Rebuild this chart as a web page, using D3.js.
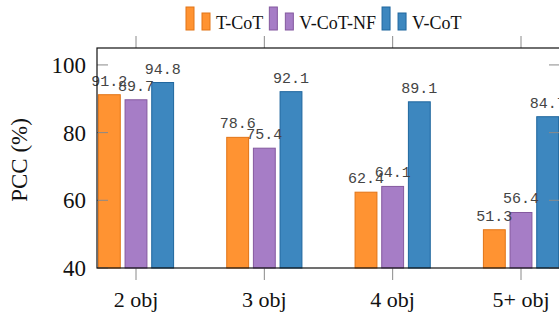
<!DOCTYPE html>
<html>
    <head>
        <style>
            html, body { margin: 0; padding: 0; background: #fff; }
        </style>
        <script src="https://d3js.org/d3.v7.min.js"></script>
    </head>
    <body>
        <div id="chart"></div>
        <script type="text/javascript">
            var categories = ["2 obj", "3 obj", "4 obj", "5+ obj"];
            var series = ["T-CoT", "V-CoT-NF", "V-CoT"];
            var tcot = [91.2, 78.6, 62.4, 51.3];
            var vcotNF = [89.7, 75.4, 64.1, 56.4];
            var vcot = [94.8, 92.1, 89.1, 84.7];
            var yTicks = [40, 60, 80, 100];

            var fills = ["#ff9332", "#a67dc6", "#3d87bf"];
            var strokes = ["#e27416", "#84599f", "#1f669e"];
            var values = [tcot, vcotNF, vcot];

            var serifFont = "'Liberation Serif', 'Times New Roman', serif";
            var monoFont = "'Liberation Mono', 'Courier New', monospace";

            var w = 559, h = 315;
            var axL = 97, axR = 560, axT = 48, axB = 268;

            var svg = d3.select("#chart").append("svg")
                .attr("width", w)
                .attr("height", h);

            var x = d3.scalePoint().domain(categories).range([136, 521]);
            var xInner = d3.scaleBand().domain(series).range([-40, 40])
                .paddingInner(0.18).paddingOuter(0.09);
            var y = d3.scaleLinear().domain([40, 105]).range([axB, axT]);

            var rows = [];
            categories.forEach(function(c, i) {
                series.forEach(function(s, j) {
                    rows.push({ cat: c, s: s, j: j, v: values[j][i] });
                });
            });

            // bars
            svg.selectAll("rect.bar")
                .data(rows)
                .enter()
                .append("rect")
                .attr("class", "bar")
                .attr("x", d => x(d.cat) + xInner(d.s))
                .attr("y", d => y(d.v))
                .attr("width", xInner.bandwidth())
                .attr("height", d => y(40) - y(d.v))
                .attr("fill", d => fills[d.j])
                .attr("stroke", d => strokes[d.j])
                .attr("stroke-width", 1);

            // value labels
            svg.selectAll("text.val")
                .data(rows)
                .enter()
                .append("text")
                .attr("class", "val")
                .attr("x", d => x(d.cat) + xInner(d.s) + xInner.bandwidth() / 2)
                .attr("y", d => y(d.v) - 9)
                .attr("text-anchor", "middle")
                .attr("font-family", monoFont)
                .attr("font-size", 15)
                .attr("fill", "#444")
                .text(d => d.v.toFixed(1));

            // ticks
            var tickColor = "#8a8a8a";
            svg.selectAll("line.yl")
                .data(yTicks)
                .enter()
                .append("line")
                .attr("x1", axL).attr("x2", axL + 11)
                .attr("y1", d => y(d)).attr("y2", d => y(d))
                .attr("stroke", tickColor);
            svg.selectAll("line.yr")
                .data(yTicks)
                .enter()
                .append("line")
                .attr("x1", axR - 11).attr("x2", axR)
                .attr("y1", d => y(d)).attr("y2", d => y(d))
                .attr("stroke", tickColor);
            svg.selectAll("line.xb")
                .data(categories)
                .enter()
                .append("line")
                .attr("x1", d => x(d)).attr("x2", d => x(d))
                .attr("y1", axB).attr("y2", axB + 12)
                .attr("stroke", tickColor);
            svg.selectAll("line.xt")
                .data(categories)
                .enter()
                .append("line")
                .attr("x1", d => x(d)).attr("x2", d => x(d))
                .attr("y1", axT - 12).attr("y2", axT)
                .attr("stroke", tickColor);

            // axis frame
            svg.append("rect")
                .attr("x", axL).attr("y", axT)
                .attr("width", axR - axL).attr("height", axB - axT)
                .attr("fill", "none")
                .attr("stroke", "#111")
                .attr("stroke-width", 1.2);

            // tick labels
            svg.selectAll("text.yt")
                .data(yTicks)
                .enter()
                .append("text")
                .attr("x", axL - 11)
                .attr("y", d => y(d))
                .attr("dy", "0.35em")
                .attr("text-anchor", "end")
                .attr("font-family", serifFont)
                .attr("font-size", 23)
                .attr("fill", "#111")
                .text(d => d);
            svg.selectAll("text.xt")
                .data(categories)
                .enter()
                .append("text")
                .attr("x", d => x(d))
                .attr("y", 307)
                .attr("text-anchor", "middle")
                .attr("font-family", serifFont)
                .attr("font-size", 22)
                .attr("fill", "#111")
                .text(d => d);

            svg.append("text")
                .attr("transform", "translate(27," + ((axT + axB) / 2 + 2) + ") rotate(-90)")
                .attr("text-anchor", "middle")
                .attr("font-family", serifFont)
                .attr("font-size", 23)
                .attr("fill", "#111")
                .text("PCC (%)");

            // legend
            var lx = 186, ly = 30;
            series.forEach(function(s, j) {
                var g = svg.append("g");
                g.append("rect").attr("x", lx).attr("y", ly - 23)
                    .attr("width", 8).attr("height", 23)
                    .attr("fill", fills[j]).attr("stroke", strokes[j]);
                g.append("rect").attr("x", lx + 16).attr("y", ly - 17)
                    .attr("width", 8).attr("height", 17)
                    .attr("fill", fills[j]).attr("stroke", strokes[j]);
                var t = g.append("text")
                    .attr("x", lx + 30).attr("y", ly - 1)
                    .attr("font-family", serifFont)
                    .attr("font-size", 18)
                    .attr("fill", "#111")
                    .text(s);
                lx = lx + 30 + t.node().getComputedTextLength() + 6;
            });
        </script>
    </body>
</html>
